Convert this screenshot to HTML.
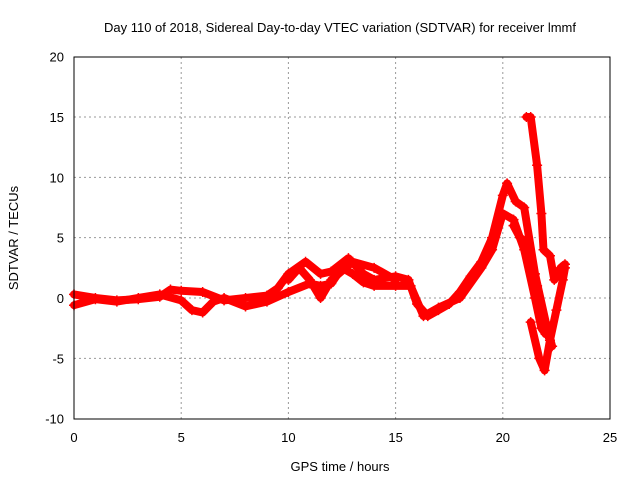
<!DOCTYPE html>
<html><head><meta charset="utf-8"><style>
body{margin:0;background:#fff;}
svg text{font-family:"Liberation Sans",sans-serif;font-size:13px;fill:#000;}
</style></head><body>
<svg id="chart" width="640" height="480" xmlns="http://www.w3.org/2000/svg">
<text x="340" y="32" text-anchor="middle">Day 110 of 2018, Sidereal Day-to-day VTEC variation (SDTVAR) for receiver lmmf</text>
<text x="340" y="471" text-anchor="middle">GPS time / hours</text>
<text transform="translate(18,238) rotate(-90)" text-anchor="middle">SDTVAR / TECUs</text>
<g id="grid"></g><g id="ticks"></g><g id="marks"></g>
<rect x="74" y="57" width="536" height="362" fill="none" stroke="#000" stroke-width="1"/>
</svg>
<script>
const xTicks=[0,5,10,15,20,25];
const yTicks=[-10,-5,0,5,10,15,20];
const trackUpperT=[0,1,2,3,4,4.5,5,6,7,8,9,9.5,10,10.8,11.5,12,12.8,13.5,14,15,15.6,16,16.5,17,17.5,18,18.5,19,19.5,20,20.2,20.6,21,21.5,22,22.3];
const trackUpperV=[0.3,0,-0.2,-0.1,0.1,0.7,0.6,0.5,-0.2,0,0.2,0.8,2,3,2,2.2,3.3,2,1.5,1.8,1.5,-0.5,-1.5,-1,-0.5,0.5,1.8,3,5,8.5,9.5,8,7.5,2,-2,-4];
const trackLowerT=[0,1,2,3,4,5,5.5,6,6.5,7,8,9,10,11,11.5,12,12.5,13,13.5,14,15,15.7,16.3,17,18,19,19.5,20,20.5,21,21.5,21.8,22];
const trackLowerV=[-0.6,-0.1,-0.3,0,0.3,-0.2,-1,-1.2,-0.3,0,-0.7,-0.3,0.5,1.2,1,1.2,2.5,2,1.3,1,1,1,-1.5,-0.8,0,2.5,4,7,6.5,4,0,-2.5,-3];
const trackMidT=[10,10.5,11,11.5,12,13,14,15];
const trackMidV=[1.5,2.5,1.5,0,1.5,3,2.5,1.5];
const trackHighT=[21.1,21.3,21.6,21.8,21.9,22.2,22.4,22.7,22.9];
const trackHighV=[15,15,11,7,4,3.5,1.5,2.5,2.8];
const trackDipT=[21.3,21.7,21.95,22.2,22.5,22.8,22.9];
const trackDipV=[-2,-5,-6,-3.5,-1,1.5,2.5];
const trackLoopT=[20.5,20.8,21.2,21.6,21.9];
const trackLoopV=[6,5,4.5,1,-2.5];
const tracks=[[trackUpperT,trackUpperV,'track-upper'],[trackLowerT,trackLowerV,'track-lower'],[trackMidT,trackMidV,'track-mid'],[trackHighT,trackHighV,'track-high'],[trackDipT,trackDipV,'track-dip'],[trackLoopT,trackLoopV,'track-loop']];
const X=t=>74+t*(536/25);
const Y=v=>298-v*(362/30);
const NS='http://www.w3.org/2000/svg';
const grid=document.getElementById('grid'),ticks=document.getElementById('ticks'),marks=document.getElementById('marks');
function mk(tag,a,p){const e=document.createElementNS(NS,tag);for(const k in a)e.setAttribute(k,a[k]);p.appendChild(e);return e;}
xTicks.forEach(t=>{
 if(t>0&&t<25){const g=mk('line',{x1:X(t),x2:X(t),y1:57,y2:419,stroke:'#999','stroke-dasharray':'2,3'},grid);
 
 }
 const l=mk('text',{x:X(t),y:442,'text-anchor':'middle'},ticks);l.textContent=t;
 
 
});
yTicks.forEach(v=>{
 if(v>-10&&v<20){const g=mk('line',{x1:74,x2:610,y1:Y(v),y2:Y(v),stroke:'#999','stroke-dasharray':'2,3'},grid);
 
 }
 const l=mk('text',{x:64,y:Y(v)+5,'text-anchor':'end'},ticks);l.textContent=v;
 
 
});
tracks.forEach(([ts,vs,name])=>{
 const pts=ts.map((t,i)=>X(t).toFixed(1)+','+Y(vs[i]).toFixed(1)).join(' ');
 const p=mk('polyline',{points:pts,fill:'none',stroke:'#f00','stroke-width':8,'stroke-linejoin':'round','stroke-linecap':'round'},marks);
 
 
 ts.forEach((t,i)=>{
  const c=mk('path',{d:`M${X(t)-5},${Y(vs[i])}h10M${X(t)},${Y(vs[i])-5}v10`,stroke:'#f00','stroke-width':1.5},marks);
  
  
 });
});
</script>
</body></html>
